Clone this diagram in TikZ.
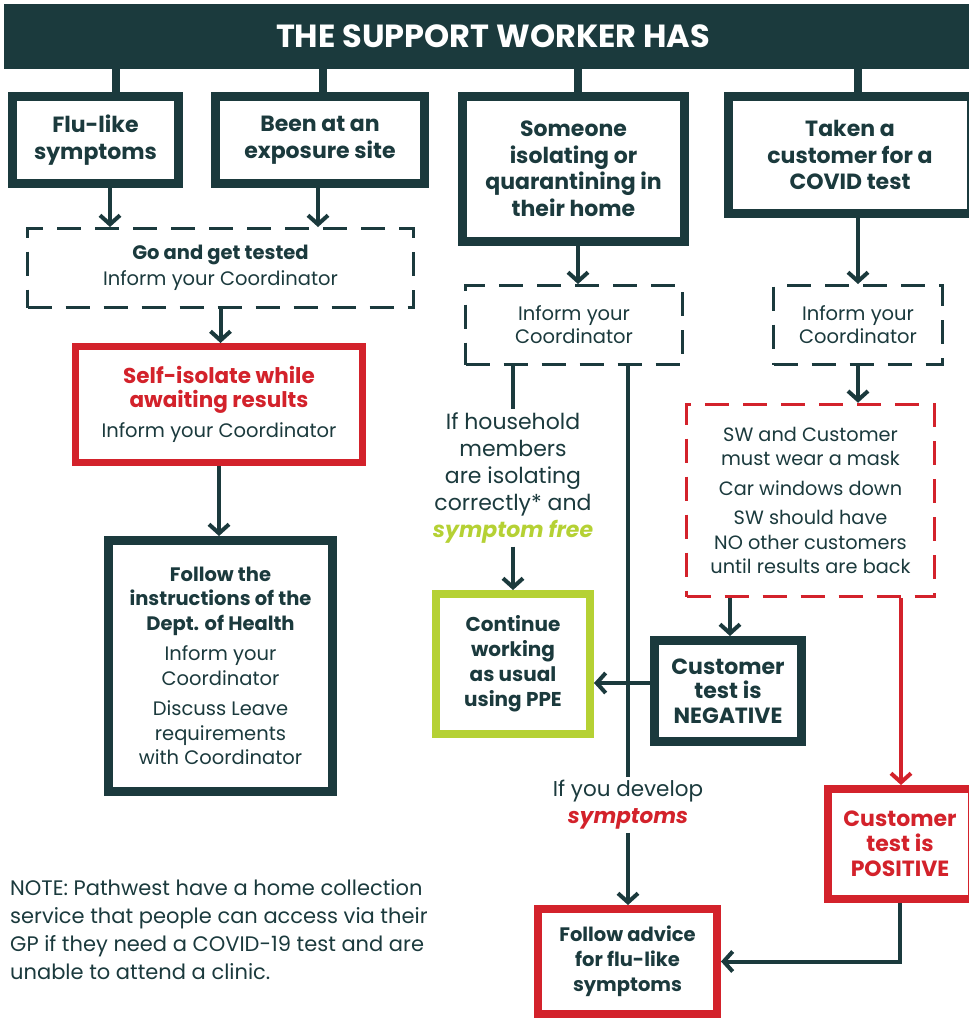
\documentclass[tikz,border=0pt]{standalone}
\usepackage{fontspec}
\setmainfont{Poppins}
\usetikzlibrary{arrows.meta}
\definecolor{dk}{HTML}{1B3A3D}
\definecolor{rd}{HTML}{D3222B}
\definecolor{gr}{HTML}{B5D134}
\begin{document}
\begin{tikzpicture}[x=1pt,y=-1pt,
  fr/.style 2 args={font=\fontsize{#1pt}{#2pt}\selectfont},
  fb/.style 2 args={font=\fontsize{#1pt}{#2pt}\selectfont\bfseries},
  sbox/.style={draw=dk, line width=9pt, inner sep=0pt, align=center, text=dk},
  rbox/.style={draw=rd, line width=7pt, inner sep=0pt, align=center, text=dk},
  gbox/.style={draw=gr, line width=8pt, inner sep=0pt, align=center, text=dk},
  dbox/.style={draw=dk, line width=3pt, dash pattern=on 24pt off 14pt, inner sep=0pt, align=center, text=dk},
  rdbox/.style={draw=rd, line width=3.5pt, dash pattern=on 24pt off 14pt, inner sep=0pt, align=center, text=dk},
  txt/.style={inner sep=3pt, align=center, text=dk},
  link/.style={draw=dk, line width=4pt},
  arr/.style={link, -{Straight Barb[length=9pt,width=20pt]}},
  rarr/.style={draw=rd, line width=4pt, -{Straight Barb[length=9pt,width=20pt]}},
  stub/.style={draw=dk, line width=8pt}
]
\useasboundingbox (0,0) rectangle (969,1018);
\fill[white] (0,0) rectangle (969,1018);

% title bar
\node[fill=dk, minimum width=978pt, minimum height=65pt, inner sep=0pt, text=white, fb={32}{36}] (bar) at (493,36.5) {THE SUPPORT WORKER HAS};

% first row
\node[sbox, fb={22}{26.5}, minimum width=166pt, minimum height=87pt] (flu) at (95.5,140) {Flu-like\\symptoms};
\node[sbox, fb={22}{26.5}, minimum width=209pt, minimum height=87pt] (been) at (320,140) {Been at an\\exposure site};
\node[sbox, fb={22}{26.5}, minimum width=222pt, minimum height=145pt] (some) at (573.5,169) {Someone\\isolating or\\quarantining in\\their home};
\node[sbox, fb={22}{26.5}, minimum width=243pt, minimum height=117pt] (taken) at (850,155) {Taken a\\customer for a\\COVID test};

\coordinate (s1) at (116,0);
\coordinate (s2) at (323,0);
\coordinate (s3) at (578,0);
\coordinate (s4) at (858,0);
\draw[stub] (s1 |- bar.south) -- (s1 |- flu.north);
\draw[stub] (s2 |- bar.south) -- (s2 |- been.north);
\draw[stub] (s3 |- bar.south) -- (s3 |- some.north);
\draw[stub] (s4 |- bar.south) -- (s4 |- taken.north);

% left column
\node[dbox, fr={19.5}{26}, minimum width=386pt, minimum height=79pt] (go) at (220.5,268) {\textbf{Go and get tested}\\Inform your Coordinator};
\node[rbox, fr={19.5}{24}, minimum width=287pt, minimum height=116pt] (self) at (219,404.5) {\textcolor{rd}{\fontsize{21.5pt}{24pt}\selectfont\textbf{Self-isolate while}}\\\textcolor{rd}{\fontsize{21.5pt}{24pt}\selectfont\textbf{awaiting results}}\\[6pt]Inform your Coordinator};
\node[sbox, fr={19.5}{24.5}, minimum width=224pt, minimum height=251pt] (follow) at (220.5,666) {\textbf{Follow the}\\\textbf{instructions of the}\\\textbf{Dept. of Health}\\[6pt]Inform your\\Coordinator\\[6pt]Discuss Leave\\requirements\\with Coordinator};

\coordinate (a1) at (110,0);
\coordinate (a2) at (318,0);
\draw[arr] (a1 |- flu.south) -- (a1 |- go.north);
\draw[arr] (a2 |- been.south) -- (a2 |- go.north);
\draw[arr] (go.south) -- (go.south |- self.north);
\draw[arr] (self.south) -- (self.south |- follow.north);

% middle column
\node[dbox, fr={19.5}{23}, minimum width=217pt, minimum height=79pt] (im) at (574,325) {Inform your\\Coordinator};
\node[txt, fr={22}{27}] (hh) at (513,478) {If household\\members\\are isolating\\correctly* and\\\textcolor{gr}{\textbf{\textit{symptom free}}}};
\node[gbox, fb={20}{25}, minimum width=154pt, minimum height=140pt] (cont) at (513,664) {Continue\\working\\as usual\\using PPE};
\node[txt, fr={21.5}{27}] (dev) at (628,805) {If you develop\\\textcolor{rd}{\textbf{\textit{symptoms}}}};
\node[rbox, line width=8pt, fb={19.5}{25}, minimum width=179pt, minimum height=105pt] (fa) at (627.5,961.5) {Follow advice\\for flu-like\\symptoms};

\coordinate (c513) at (513,0);
\coordinate (c628) at (628,0);
\draw[arr] (s3 |- some.south) -- (s3 |- im.north);
\draw[link] (c513 |- im.south) -- (c513 |- hh.north);
\draw[arr] (c513 |- hh.south) -- (c513 |- cont.north);
\draw[link] (c628 |- im.south) -- (c628 |- dev.north);
\draw[arr] (c628 |- dev.south) -- (c628 |- fa.north);

% right column
\node[dbox, fr={19.5}{23}, minimum width=169pt, minimum height=79pt] (ir) at (858,325) {Inform your\\Coordinator};
\node[rdbox, fr={19.3}{24.5}, minimum width=248pt, minimum height=192pt] (rdb) at (810.5,500.5) {SW and Customer\\must wear a mask\\[5pt]Car windows down\\[5pt]SW should have\\NO other customers\\until results are back};
\node[sbox, fb={22}{24.5}, minimum width=147pt, minimum height=101pt] (neg) at (728,691) {Customer\\test is\\NEGATIVE};
\node[rbox, line width=8pt, text=rd, fb={22}{25}, minimum width=144pt, minimum height=110pt] (pos) at (900,844) {Customer\\test is\\POSITIVE};

\coordinate (c730) at (730,0);
\coordinate (c901) at (901,0);
\coordinate (r683) at (0,683);
\draw[arr] (s4 |- taken.south) -- (s4 |- ir.north);
\draw[arr] (ir.south) -- (ir.south |- rdb.north);
\draw[arr] (c730 |- rdb.south) -- (c730 |- neg.north);
\draw[rarr] (c901 |- rdb.south) -- (c901 |- pos.north);
\draw[arr] (neg.west |- r683) -- (cont.east |- r683);
\draw[arr] (pos.south) |- (fa.east);

% note
\node[inner sep=0pt, anchor=west, align=left, text=dk, fr={21}{28}] (note) at (10,929.5) {NOTE: Pathwest have a home collection\\service that people can access via their\\GP if they need a COVID-19 test and are\\unable to attend a clinic.};
\end{tikzpicture}
\end{document}
